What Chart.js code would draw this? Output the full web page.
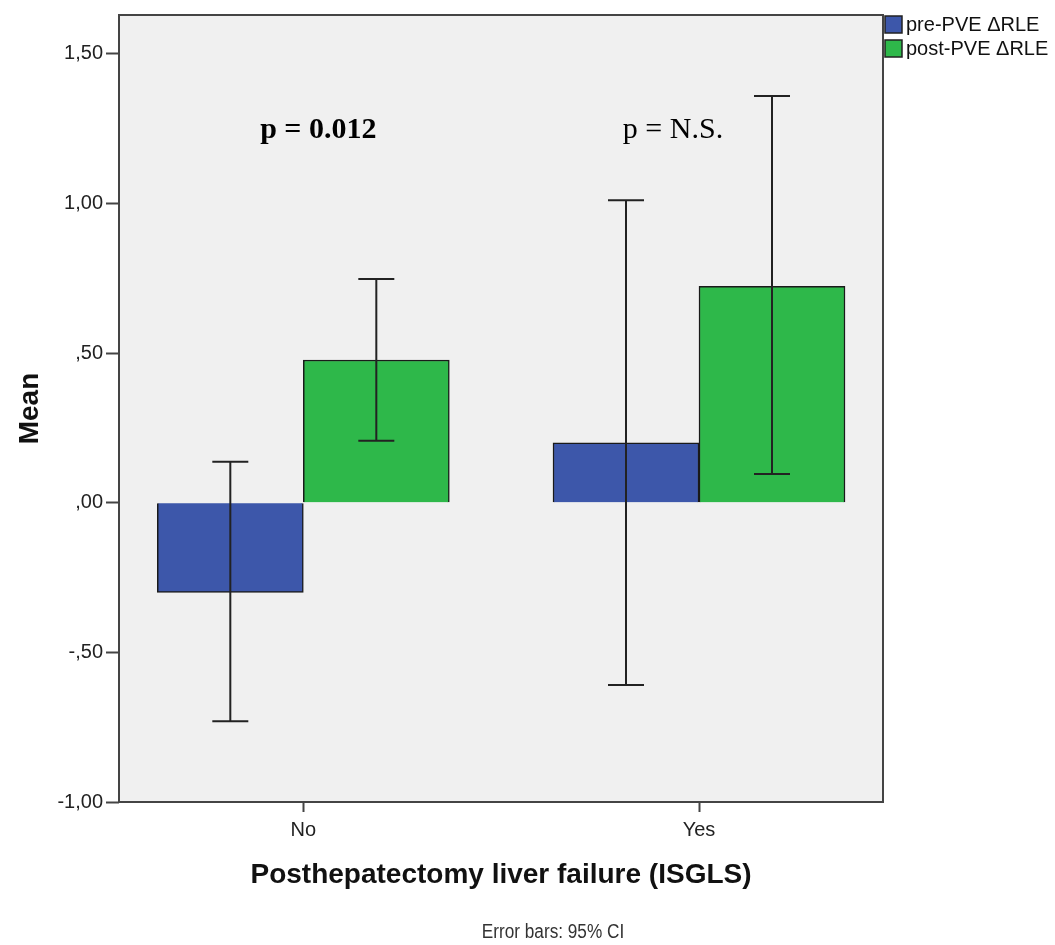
<!DOCTYPE html>
<html>
<head>
<meta charset="utf-8">
<script src="https://cdn.jsdelivr.net/npm/chart.js@4/dist/chart.umd.min.js"></script>
<style>
  html, body { margin: 0; padding: 0; background: #fff; }
  #wrap { width: 1055px; height: 945px; }
</style>
</head>
<body>
<div id="wrap"><canvas id="pve-chart" width="1055" height="945"></canvas></div>
<script>
// categories on the x axis
const categories = ["No", "Yes"];
const seriesNames = ["pre-PVE \u0394RLE", "post-PVE \u0394RLE"];

// means
const preMean = [-0.30, 0.20];
const postMean = [0.477, 0.723];

// 95% CI bounds
const preLow = [-0.73, -0.609];
const preHigh = [0.137, 1.011];
const postLow = [0.207, 0.096];
const postHigh = [0.748, 1.359];

const yTicks = [-1, -0.5, 0, 0.5, 1, 1.5];
const pLabels = ["p = 0.012", "p = N.S."];

const blue = "#3D57AA";
const green = "#2EB84A";
const axisColor = "#444";

// SPSS style: 1,50  ,50  ,00  -,50
function spssNum(v) {
  let s = Math.abs(v).toFixed(2).replace(".", ",");
  if (s.startsWith("0")) s = s.slice(1);
  return (v < 0 ? "-" : "") + s;
}

const errorBars = {
  id: "errorBars",
  afterDatasetsDraw(chart) {
    const ctx = chart.ctx;
    const y = chart.scales.y;
    const bounds = [[preLow, preHigh], [postLow, postHigh]];
    ctx.save();
    ctx.strokeStyle = "#222";
    ctx.lineWidth = 2;
    chart.data.datasets.forEach((ds, i) => {
      chart.getDatasetMeta(i).data.forEach((bar, j) => {
        const lo = y.getPixelForValue(bounds[i][0][j]);
        const hi = y.getPixelForValue(bounds[i][1][j]);
        ctx.beginPath();
        ctx.moveTo(bar.x, lo);
        ctx.lineTo(bar.x, hi);
        ctx.moveTo(bar.x - 18, lo);
        ctx.lineTo(bar.x + 18, lo);
        ctx.moveTo(bar.x - 18, hi);
        ctx.lineTo(bar.x + 18, hi);
        ctx.stroke();
      });
    });
    ctx.restore();
  }
};

const frame = {
  id: "frame",
  beforeDatasetsDraw(chart) {
    const { ctx, chartArea: a } = chart;
    ctx.save();
    ctx.fillStyle = "#F0F0F0";
    ctx.fillRect(a.left, a.top, a.right - a.left, a.bottom - a.top);
    ctx.restore();
  },
  afterDraw(chart) {
    const { ctx, chartArea: a } = chart;
    const x = chart.scales.x;
    ctx.save();
    ctx.strokeStyle = axisColor;
    ctx.lineWidth = 2;
    ctx.strokeRect(a.left, a.top, a.right - a.left, a.bottom - a.top);

    // p-values above each group
    ctx.fillStyle = "#000";
    ctx.textAlign = "center";
    ctx.textBaseline = "alphabetic";
    ctx.font = "bold 30px 'Liberation Serif', 'Times New Roman', serif";
    ctx.fillText(pLabels[0], x.getPixelForValue(0) + 15, 138);
    ctx.font = "30px 'Liberation Serif', 'Times New Roman', serif";
    ctx.fillText(pLabels[1], x.getPixelForValue(1) - 26, 138);

    // axis titles
    ctx.fillStyle = "#111";
    ctx.textBaseline = "middle";
    ctx.font = "bold 28px 'Liberation Sans', Arial, sans-serif";
    ctx.fillText("Posthepatectomy liver failure (ISGLS)", (a.left + a.right) / 2, 875);
    ctx.save();
    ctx.translate(30, (a.top + a.bottom) / 2);
    ctx.rotate(-Math.PI / 2);
    ctx.fillText("Mean", 0, 0);
    ctx.restore();

    // footnote, narrow like the SPSS output
    ctx.save();
    ctx.fillStyle = "#333";
    ctx.font = "20px 'Liberation Sans', Arial, sans-serif";
    ctx.translate(553, 932);
    ctx.scale(0.86, 1);
    ctx.fillText("Error bars: 95% CI", 0, 0);
    ctx.restore();

    // legend
    const colors = [blue, green];
    ctx.textAlign = "left";
    ctx.font = "20px 'Liberation Sans', Arial, sans-serif";
    seriesNames.forEach((name, i) => {
      const top = 16 + i * 24;
      ctx.fillStyle = colors[i];
      ctx.fillRect(885, top, 17, 17);
      ctx.strokeStyle = "#222";
      ctx.lineWidth = 1.5;
      ctx.strokeRect(885, top, 17, 17);
      ctx.fillStyle = "#111";
      ctx.fillText(name, 906, top + 9);
    });
    ctx.restore();
  }
};

new Chart(document.getElementById("pve-chart"), {
  type: "bar",
  data: {
    datasets: [
      {
        label: seriesNames[0],
        data: preMean.map((v, i) => ({ x: i, y: v })),
        backgroundColor: blue,
        borderColor: "#1a1a1a",
        borderWidth: 1.5
      },
      {
        label: seriesNames[1],
        data: postMean.map((v, i) => ({ x: i, y: v })),
        backgroundColor: green,
        borderColor: "#1a1a1a",
        borderWidth: 1.5
      }
    ]
  },
  options: {
    responsive: false,
    animation: false,
    layout: { padding: { left: 0, right: 172, top: 13, bottom: 0 } },
    datasets: { bar: { barThickness: 146, grouped: true } },
    plugins: { legend: { display: false }, tooltip: { enabled: false } },
    scales: {
      x: {
        type: "linear",
        offset: false,
        min: -0.4658,
        max: 1.465,
        afterBuildTicks(scale) {
          scale.ticks = categories.map((c, i) => ({ value: i }));
        },
        afterFit(scale) { scale.height = 143; },
        border: { display: false },
        grid: { offset: false, drawOnChartArea: false, drawTicks: true, tickLength: 10, tickWidth: 2, tickColor: axisColor },
        ticks: {
          padding: 6,
          color: "#222",
          font: { family: "'Liberation Sans', Arial, sans-serif", size: 20 },
          callback: (v) => categories[v]
        }
      },
      y: {
        min: -1,
        max: 1.63,
        afterBuildTicks(scale) {
          scale.ticks = yTicks.map((v) => ({ value: v }));
        },
        afterFit(scale) { scale.width = 119; },
        border: { display: false },
        grid: { drawOnChartArea: false, drawTicks: true, tickLength: 13, tickWidth: 2, tickColor: axisColor },
        ticks: {
          padding: 3,
          color: "#222",
          font: { family: "'Liberation Sans', Arial, sans-serif", size: 20 },
          callback: (v) => spssNum(v)
        }
      }
    }
  },
  plugins: [frame, errorBars]
});
</script>
</body>
</html>
